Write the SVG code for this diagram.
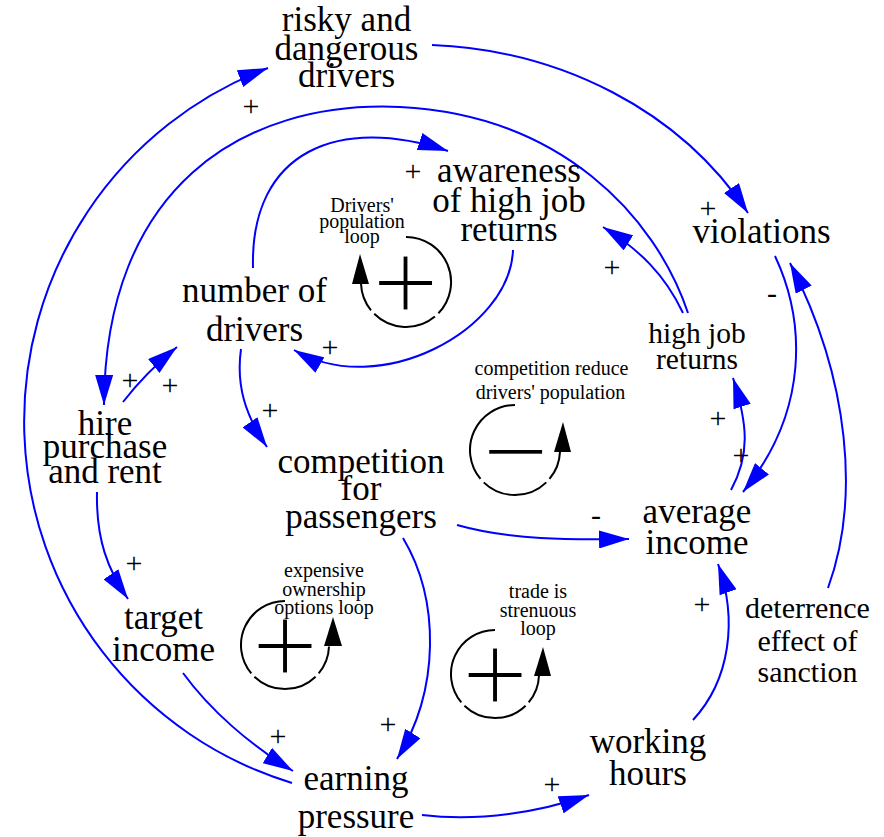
<svg xmlns="http://www.w3.org/2000/svg" width="884" height="837" viewBox="0 0 884 837">
<style>
text{font-family:"Liberation Serif","Times New Roman",serif;fill:#000;text-anchor:middle}
.n{font-size:35px}
.m{font-size:29.5px}
.d{font-size:30px}
.s{font-size:20px}
.p{font-size:30px}
.sym{font-size:118px;stroke:#fff;stroke-width:2}
.e{fill:none;stroke:#0000ff;stroke-width:2;marker-end:url(#ah)}
.loop{fill:none;stroke:#000;stroke-width:2}
.lh{fill:#000}
</style>
<defs>
<marker id="ah" markerUnits="userSpaceOnUse" viewBox="0 0 30 18" refX="30" refY="9" markerWidth="30" markerHeight="18" orient="auto">
<path d="M0,0 L30,9 L0,18 z" fill="#0000ff"/>
</marker>
</defs>
<rect width="884" height="837" fill="#fff"/>
<g id="connectors">
<path class="e" d="M292 783 A378 378 0 0 1 268 68"/>
<path class="e" d="M688 313 C655 215 560 115 400 107 C240 100 105 190 104 405"/>
<path class="e" d="M253 268 C250 150 340 115 448 151"/>
<path class="e" d="M513 250 C510 330 380 400 294 350"/>
<path class="e" d="M432 45 C560 50 680 110 748 213"/>
<path class="e" d="M775 256 C805 320 810 410 743 492"/>
<path class="e" d="M731 490 C750 455 748 425 733 378"/>
<path class="e" d="M828 588 C860 500 850 380 790 263"/>
<path class="e" d="M683 313 C665 275 640 250 603 227"/>
<path class="e" d="M241 349 C236 385 245 415 267 447"/>
<path class="e" d="M123 402 C140 380 155 365 177 347"/>
<path class="e" d="M97 492 C96 540 108 570 128 599"/>
<path class="e" d="M183 673 C210 710 250 745 293 771"/>
<path class="e" d="M403 538 C440 600 440 690 397 759"/>
<path class="e" d="M457 525 C510 540 570 540 629 539"/>
<path class="e" d="M422 815 C480 822 540 812 589 795"/>
<path class="e" d="M693 720 C730 680 738 620 718 564"/>
</g>
<g id="polarities">
<text class="p" x="251" y="116">+</text>
<text class="p" x="413" y="180.5">+</text>
<text class="p" x="708" y="218">+</text>
<text class="p" x="612" y="277">+</text>
<text class="p" x="772" y="302.8">-</text>
<text class="p" x="330" y="357">+</text>
<text class="p" x="130" y="390">+</text>
<text class="p" x="170" y="395">+</text>
<text class="p" x="270" y="420">+</text>
<text class="p" x="718" y="428">+</text>
<text class="p" x="741" y="465">+</text>
<text class="p" x="596" y="524.8">-</text>
<text class="p" x="134" y="573">+</text>
<text class="p" x="702" y="614">+</text>
<text class="p" x="278" y="745.5">+</text>
<text class="p" x="388" y="733.5">+</text>
<text class="p" x="552" y="793.5">+</text>
</g>
<g id="risky">
<text class="n"><tspan x="346.5" y="31">risky and</tspan><tspan x="346.5" y="59.5">dangerous</tspan><tspan x="346.5" y="87">drivers</tspan></text>
</g>
<g id="awareness">
<text class="n"><tspan x="509" y="181.5">awareness</tspan><tspan x="509" y="211.5">of high job</tspan><tspan x="509" y="240.5">returns</tspan></text>
</g>
<g id="violations">
<text class="n" x="761.5" y="243.3">violations</text>
</g>
<g id="number_of_drivers">
<text class="n"><tspan x="254.5" y="302">number of</tspan><tspan x="254.5" y="340.5">drivers</tspan></text>
</g>
<g id="high_job_returns">
<text class="m"><tspan x="697" y="343">high job</tspan><tspan x="697" y="369">returns</tspan></text>
</g>
<g id="hire_purchase">
<text class="n"><tspan x="105" y="435">hire</tspan><tspan x="105" y="458.3">purchase</tspan><tspan x="105" y="483.3">and rent</tspan></text>
</g>
<g id="competition">
<text class="n"><tspan x="361" y="473">competition</tspan><tspan x="361" y="500">for</tspan><tspan x="361" y="528">passengers</tspan></text>
</g>
<g id="average_income">
<text class="n"><tspan x="697" y="523">average</tspan><tspan x="697" y="554">income</tspan></text>
</g>
<g id="deterrence">
<text class="d"><tspan x="807.5" y="618">deterrence</tspan><tspan x="807.5" y="651">effect of</tspan><tspan x="807.5" y="682">sanction</tspan></text>
</g>
<g id="target_income">
<text class="n"><tspan x="163.5" y="628.5">target</tspan><tspan x="163.5" y="661">income</tspan></text>
</g>
<g id="earning_pressure">
<text class="n"><tspan x="356" y="790">earning</tspan><tspan x="356" y="828">pressure</tspan></text>
</g>
<g id="working_hours">
<text class="n"><tspan x="648" y="753">working</tspan><tspan x="648" y="785">hours</tspan></text>
</g>
<g id="loop_drivers_population">
<path class="loop" d="M406 237 A45 45 0 0 1 438.4 313.3 M434.9 316.5 A45 45 0 0 1 374.2 313.8 M371 310.3 A45 45 0 0 1 361 283.6"/>
<polygon class="lh" points="360,254 352,284 369,284"/>
<text class="sym" x="405.5" y="323.2">+</text>
<text class="s"><tspan x="362" y="212">Drivers'</tspan><tspan x="362" y="227.5">population</tspan><tspan x="362" y="243.3">loop</tspan></text>
</g>
<g id="loop_competition">
<path class="loop" d="M515 405 A45 45 0 0 0 480.5 478.9 M483.7 482.4 A45 45 0 0 0 546.3 482.4 M549.5 478.9 A45 45 0 0 0 560 451.6"/>
<polygon class="lh" points="563,422 554,452 571,452"/>
<text class="sym" x="515.5" y="491.3">−</text>
<text class="s"><tspan x="551.5" y="375">competition reduce</tspan><tspan x="550.5" y="399">drivers' population</tspan></text>
</g>
<g id="loop_expensive_ownership">
<path class="loop" d="M285 601 A44 44 0 0 0 251.3 673.3 M254.4 676.7 A44 44 0 0 0 315.6 676.7 M318.7 673.3 A44 44 0 0 0 329 646.5"/>
<polygon class="lh" points="333,617 324,646 342,646"/>
<text class="sym" x="285" y="685.7">+</text>
<text class="s"><tspan x="324" y="577">expensive</tspan><tspan x="324" y="595.5">ownership</tspan><tspan x="324" y="614">options loop</tspan></text>
</g>
<g id="loop_trade_strenuous">
<path class="loop" d="M495 630 A44 44 0 0 0 461.3 702.3 M464.4 705.7 A44 44 0 0 0 525.6 705.7 M528.7 702.3 A44 44 0 0 0 539 675.5"/>
<polygon class="lh" points="543,647 534,676 551,676"/>
<text class="sym" x="495" y="714.7">+</text>
<text class="s"><tspan x="538" y="598">trade is</tspan><tspan x="538" y="617">strenuous</tspan><tspan x="538" y="635">loop</tspan></text>
</g>
</svg>
